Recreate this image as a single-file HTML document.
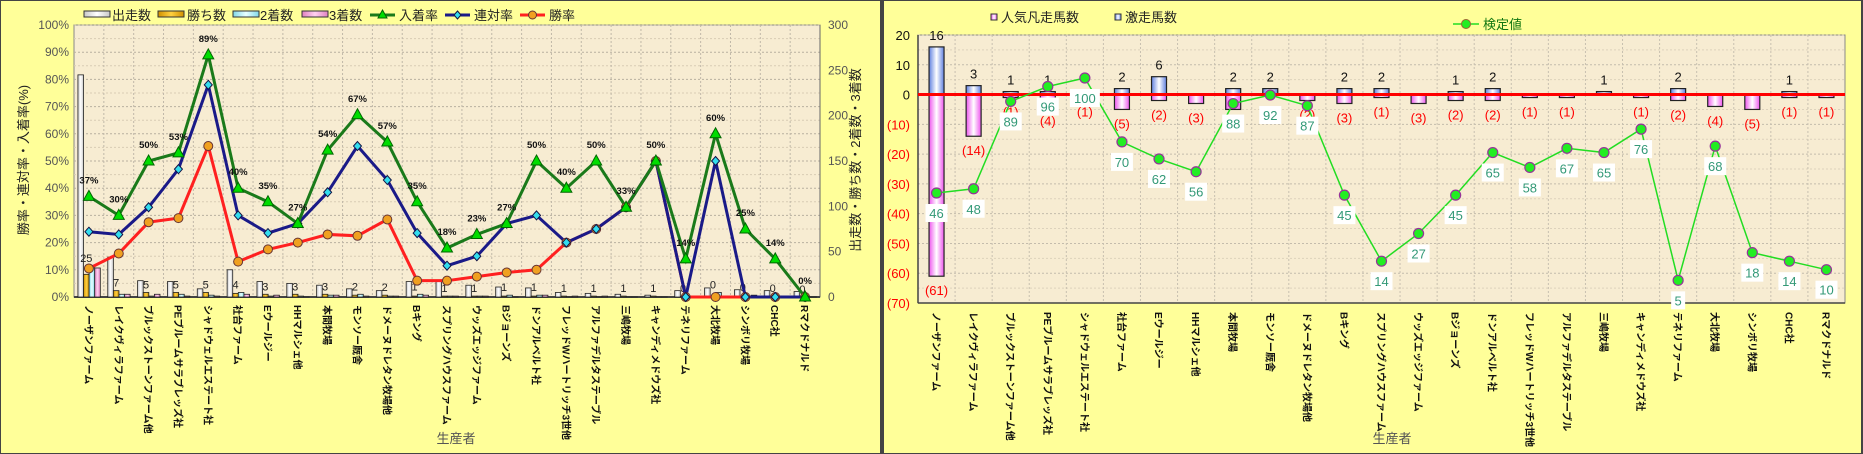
<!DOCTYPE html>
<html><head><meta charset="utf-8">
<style>
html,body{margin:0;padding:0;background:#ffff99;}
svg{display:block;font-family:"Liberation Sans","Noto Sans CJK JP",sans-serif;}
</style></head>
<body>
<svg id="s" width="1863" height="454" xmlns="http://www.w3.org/2000/svg">
<defs>
<linearGradient id="gW" x1="0" x2="1"><stop offset="0" stop-color="#c8c8c8"/><stop offset="0.5" stop-color="#ffffff"/><stop offset="1" stop-color="#c8c8c8"/></linearGradient>
<linearGradient id="gO" x1="0" x2="1"><stop offset="0" stop-color="#d09000"/><stop offset="0.5" stop-color="#ffd040"/><stop offset="1" stop-color="#d09000"/></linearGradient>
<linearGradient id="gC" x1="0" x2="1"><stop offset="0" stop-color="#80d8e8"/><stop offset="0.5" stop-color="#e8ffff"/><stop offset="1" stop-color="#80d8e8"/></linearGradient>
<linearGradient id="gP" x1="0" x2="1"><stop offset="0" stop-color="#e080c0"/><stop offset="0.5" stop-color="#ffd0f0"/><stop offset="1" stop-color="#e080c0"/></linearGradient>
<linearGradient id="gB" x1="0" x2="1"><stop offset="0" stop-color="#6080e0"/><stop offset="0.5" stop-color="#ffffff"/><stop offset="1" stop-color="#6080e0"/></linearGradient>
<linearGradient id="gM" x1="0" x2="1"><stop offset="0" stop-color="#ee55ee"/><stop offset="0.5" stop-color="#ffffff"/><stop offset="1" stop-color="#ee55ee"/></linearGradient>
</defs>
<rect x="0" y="0" width="881" height="454" fill="#ffff99" stroke="#444" stroke-width="2"/>
<rect x="883" y="0" width="979" height="454" fill="#ffff99" stroke="#444" stroke-width="2"/>
<rect x="74" y="25" width="746" height="272" fill="#f7ecd2" stroke="#888"/>
<rect x="918" y="35" width="927" height="268" fill="#f7ecd2" stroke="#888"/>
<g id="L"></g><g id="R"></g>
<text x="0" y="0" transform="translate(28,160) rotate(-90)" text-anchor="middle" font-size="13" fill="#222">勝率・連対率・入着率(%)</text>
<text x="0" y="0" transform="translate(860,160) rotate(-90)" text-anchor="middle" font-size="13" fill="#222">出走数・勝ち数・2着数・3着数</text>
<text x="456" y="443" text-anchor="middle" font-size="13" fill="#555">生産者</text>
<text x="1392" y="443" text-anchor="middle" font-size="13" fill="#555">生産者</text>
<g font-size="13" fill="#222">
<rect x="84" y="11" width="26" height="6" fill="url(#gW)" stroke="#333"/><text x="112" y="20">出走数</text>
<rect x="158" y="11" width="26" height="6" fill="url(#gO)" stroke="#333"/><text x="187" y="20">勝ち数</text>
<rect x="233" y="11" width="26" height="6" fill="url(#gC)" stroke="#333"/><text x="260" y="20">2着数</text>
<rect x="302" y="11" width="26" height="6" fill="url(#gP)" stroke="#333"/><text x="329" y="20">3着数</text>
<line x1="370" y1="15" x2="395" y2="15" stroke="#1a7a1a" stroke-width="3"/><polygon points="382.5,10 387,18 378,18" fill="#00dd00" stroke="#060"/><text x="399" y="20">入着率</text>
<line x1="445" y1="15" x2="470" y2="15" stroke="#1a1a88" stroke-width="3"/><polygon points="457.5,11 461,15 457.5,19 454,15" fill="#33ddee" stroke="#114"/><text x="474" y="20">連対率</text>
<line x1="520" y1="15" x2="545" y2="15" stroke="#ff2020" stroke-width="3"/><circle cx="532.5" cy="15" r="4" fill="#f0a020" stroke="#633"/><text x="549" y="20">勝率</text>
</g>
<g font-size="13" fill="#222">
<rect x="991" y="14" width="6" height="6" fill="url(#gM)" stroke="#333"/><text x="1001" y="22">人気凡走馬数</text>
<rect x="1115" y="14" width="6" height="6" fill="url(#gB)" stroke="#333"/><text x="1125" y="22">激走馬数</text>
<line x1="1453" y1="24" x2="1479" y2="24" stroke="#22dd22" stroke-width="1.5"/><circle cx="1466" cy="24" r="4.5" fill="#22ee22" stroke="#963"/><text x="1483" y="29" fill="#117711">検定値</text>
</g>
</svg>
<script>
const categories=["ノーザンファーム","レイクヴィラファーム","ブルックストーンファーム他","PEブルームサラブレッズ社","シャドウェルエステート社","社台ファーム","Eウールジー","HHマルシェ他","本間牧場","モンソー厩舎","ドメーヌドレタン牧場他","Bキング","スプリングハウスファーム","ウッズエッジファーム","Bジョーンズ","ドンアルベルト社","フレッドWハートリッチ3世他","アルファデルタステーブル","三嶋牧場","キャンディメドウズ社","テネリファーム","大北牧場","シンボリ牧場","CHC社","Rマクドナルド"];
const starts=[245,44,18,17,9,30,17,15,13,9,7,17,17,13,11,10,5,4,3,2,7,10,8,7,6];
const wins=[25,7,5,5,5,4,3,3,3,2,2,1,1,1,1,1,1,1,1,1,0,0,0,0,0];
const seconds=[34,3,1,3,2,5,1,1,2,3,1,3,1,1,2,2,0,0,0,0,0,5,0,0,0];
const thirds=[32,3,3,1,1,3,2,0,2,1,1,2,1,1,0,2,1,1,0,0,1,1,2,1,0];
const placeRate=[37,30,50,53,89,40,35,27,54,67,57,35,18,23,27,50,40,50,33,50,14,60,25,14,0];
const rentaiRate=[24,23,33,47,78,30,23.5,27,38.5,55.5,43,23.5,11.5,15,27,30,20,25,33,50,0,50,0,0,0];
const winRate=[10.5,16,27.5,29,55.5,13,17.5,20,23,22.5,28.5,6,6,7.5,9,10,20,25,33,50,0,0,0,0,0];
const leftTicks=["0%","10%","20%","30%","40%","50%","60%","70%","80%","90%","100%"];
const rightTicks=["0","50","100","150","200","250","300"];
const gekisou=[16,3,1,1,0,2,6,0,2,2,0,2,2,0,1,2,0,0,1,0,2,0,0,1,0];
const bonsou=[61,14,1,4,1,5,2,3,5,0,2,3,1,3,2,2,1,1,0,1,2,4,5,1,1];
const kentei=[46,48,89,96,100,70,62,56,88,92,87,45,14,27,45,65,58,67,65,76,5,68,18,14,10];
const r2Ticks=[20,10,0,-10,-20,-30,-40,-50,-60,-70];
const NS="http://www.w3.org/2000/svg";
function mk(p,t,a,txt){const e=document.createElementNS(NS,t);for(const k in a)e.setAttribute(k,a[k]);if(txt!==undefined)e.textContent=txt;p.appendChild(e);return e;}
const L=document.getElementById('L'),R=document.getElementById('R');
const lx0=74,lw=746,lyTop=25,lyBot=297,n=categories.length,lcw=lw/n;
const xL=i=>lx0+lcw*(i+0.5);
const yPct=v=>lyBot-(v/100)*(lyBot-lyTop);
const yCnt=v=>lyBot-(v/300)*(lyBot-lyTop);
for(let k=0;k<=20;k++){const y=lyBot-k*(lyBot-lyTop)/20;
const g=mk(L,'line',{x1:lx0,x2:lx0+lw,y1:y,y2:y,stroke:k%2?'#d8ccb4':'#b8b0a0','stroke-dasharray':'2,2'});

}
for(let i=1;i<n;i++){const g=mk(L,'line',{x1:lx0+lcw*i,x2:lx0+lcw*i,y1:lyTop,y2:lyBot,stroke:'#c0b8a8','stroke-dasharray':'2,2'});

}
leftTicks.forEach((t,k)=>{const e=mk(L,'text',{x:69,y:yPct(k*10)+4,'text-anchor':'end','font-size':12,fill:'#555'},t);

});
rightTicks.forEach((t,k)=>{const e=mk(L,'text',{x:828,y:yCnt(k*50)+4,'font-size':12,fill:'#555'},t);

});
mk(L,'line',{x1:lx0+lw,x2:lx0+lw,y1:lyTop,y2:lyBot,stroke:'#666'});
mk(L,'line',{x1:lx0,x2:lx0+lw,y1:lyBot,y2:lyBot,stroke:'#444','stroke-width':2});
const series=[[starts,'url(#gW)','bar-starts'],[wins,'url(#gO)','bar-wins'],[seconds,'url(#gC)','bar-seconds'],[thirds,'url(#gP)','bar-thirds']];
const bw=5.6;
categories.forEach((c,i)=>{const cx=xL(i);
series.forEach((s,j)=>{const v=s[0][i];const y=yCnt(v);const x=cx-11+j*bw;
const b=mk(L,'rect',{x:x,y:y,width:bw,height:Math.max(lyBot-y,0.01),fill:s[1],stroke:'#222','stroke-width':0.8});

});
const wl=mk(L,'text',{x:cx-11+bw*1.5,y:yCnt(Math.max(wins[i],thirds[i],seconds[i]))-4,'text-anchor':'middle','font-size':11,fill:'#222'},wins[i]);


const lab=mk(L,'text',{transform:`translate(${cx-4},305) rotate(90)`,'font-size':10,fill:'#111','font-weight':'bold'},c);

});
function line(par,arr,yf,col,name){const pts=arr.map((v,i)=>xL(i)+','+yf(v)).join(' ');const e=mk(par,'polyline',{points:pts,fill:'none',stroke:col,'stroke-width':3});

}
line(L,winRate,yPct,'#ff2020','win-rate-line');
line(L,rentaiRate,yPct,'#1a1a88','rentai-rate-line');
line(L,placeRate,yPct,'#1a7a1a','place-rate-line');
winRate.forEach((v,i)=>{const e=mk(L,'circle',{cx:xL(i),cy:yPct(v),r:4.5,fill:'#f0a020',stroke:'#633'});

});
rentaiRate.forEach((v,i)=>{const x=xL(i),y=yPct(v);const e=mk(L,'polygon',{points:`${x},${y-4.5} ${x+4},${y} ${x},${y+4.5} ${x-4},${y}`,fill:'#33ddee',stroke:'#114'});

});
placeRate.forEach((v,i)=>{const x=xL(i),y=yPct(v);const e=mk(L,'polygon',{points:`${x},${y-6} ${x+5.5},${y+4} ${x-5.5},${y+4}`,fill:'#00dd00',stroke:'#060'});


const t=mk(L,'text',{x:x,y:y-13,'text-anchor':'middle','font-size':9.5,'font-weight':'bold',fill:'#111'},v+'%');

});
const rx0=918,rw=927,ryTop=35,ryBot=303,rcw=rw/n;
const xR=i=>rx0+rcw*(i+0.5);
const yR=v=>ryTop+(20-v)*(ryBot-ryTop)/90;
const yK=v=>291-v*2.13;
for(let k=0;k<=18;k++){const y=ryTop+k*(ryBot-ryTop)/18;
const g=mk(R,'line',{x1:rx0,x2:rx0+rw,y1:y,y2:y,stroke:k%2?'#ddd2bc':'#c4bcac','stroke-dasharray':'2,2'});

}
for(let i=1;i<n;i++){const g=mk(R,'line',{x1:rx0+rcw*i,x2:rx0+rcw*i,y1:ryTop,y2:ryBot,stroke:'#c8c0b0','stroke-dasharray':'2,2'});

}
r2Ticks.forEach(v=>{const e=mk(R,'text',{x:910,y:yR(v)+5,'text-anchor':'end','font-size':13,fill:v<0?'#ff0000':'#111'},v<0?'('+(-v)+')':v);

});
mk(R,'line',{x1:rx0,x2:rx0,y1:ryTop,y2:ryBot,stroke:'#444','stroke-width':1.5});
mk(R,'line',{x1:rx0,x2:rx0+rw,y1:ryBot,y2:ryBot,stroke:'#444','stroke-width':1.5});
categories.forEach((c,i)=>{const cx=xR(i);const w=15;
const nb=mk(R,'rect',{x:cx-w/2,y:yR(0),width:w,height:Math.max(yR(-bonsou[i])-yR(0),0.01),fill:'url(#gM)',stroke:'#222','stroke-width':1.2});


const pb=mk(R,'rect',{x:cx-w/2,y:yR(gekisou[i]),width:w,height:Math.max(yR(0)-yR(gekisou[i]),0.01),fill:'url(#gB)',stroke:'#222','stroke-width':1.2});


if(gekisou[i]>0){const t=mk(R,'text',{x:cx,y:yR(gekisou[i])-7,'text-anchor':'middle','font-size':13,fill:'#111'},gekisou[i]);

}
if(bonsou[i]>0){const t=mk(R,'text',{x:cx,y:yR(-bonsou[i])+19,'text-anchor':'middle','font-size':13,fill:'#ff0000'},'('+bonsou[i]+')');

}
const lab=mk(R,'text',{transform:`translate(${cx-4},312) rotate(90)`,'font-size':10,fill:'#111','font-weight':'bold'},c);

});
const zl=mk(R,'line',{x1:rx0,x2:rx0+rw,y1:yR(0),y2:yR(0),stroke:'#ff0000','stroke-width':3});


const kl=mk(R,'polyline',{points:kentei.map((v,i)=>xR(i)+','+yK(v)).join(' '),fill:'none',stroke:'#22dd22','stroke-width':1.5});


kentei.forEach((v,i)=>{const x=xR(i),y=yK(v);
const c=mk(R,'circle',{cx:x,cy:y,r:5,fill:'#22ee22',stroke:'#963399','stroke-width':1.2});


const s=String(v);const bwid=s.length*8+6;
const bg=mk(R,'rect',{x:x-bwid/2,y:y+11,width:bwid,height:18,fill:'#ffffff'});


const t=mk(R,'text',{x:x,y:y+25,'text-anchor':'middle','font-size':13,fill:'#339977'},s);

});
</script>
</body></html>
